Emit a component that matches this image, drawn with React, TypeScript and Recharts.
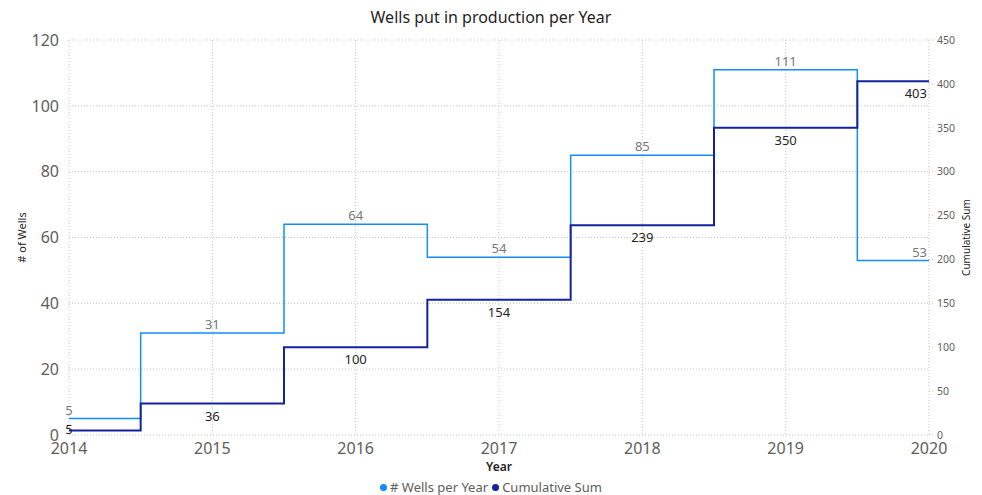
import React from 'react';
import { ComposedChart, Line, XAxis, YAxis, CartesianGrid, LabelList, Legend } from 'recharts';

const years = [2014, 2015, 2016, 2017, 2018, 2019, 2020];
const wellsPerYear = [5, 31, 64, 54, 85, 111, 53];
const cumulativeSum = [5, 36, 100, 154, 239, 350, 403];
const leftTicks = [0, 20, 40, 60, 80, 100, 120];
const rightTicks = [0, 50, 100, 150, 200, 250, 300, 350, 400, 450];

const data = years.map((y, i) => ({ year: y, wells: wellsPerYear[i], cum: cumulativeSum[i] }));

const FONT = '"Noto Sans", "Open Sans", sans-serif';
const WELLS_COLOR = '#118DFF';
const CUM_COLOR = '#12239E';
const PLOT_BOTTOM = 435;

const makeLabel = (fill: string, above: boolean) => (props: any) => {
  const { x, y, value, index } = props;
  const last = index === years.length - 1;
  const anchor = last ? 'end' : 'middle';
  const tx = last ? x - 2 : x;
  const ty = above ? y - 4 : Math.min(y + 6, PLOT_BOTTOM - 12);
  return (
    <text
      x={tx}
      y={ty}
      textAnchor={anchor}
      dominantBaseline={above ? 'auto' : 'hanging'}
      fill={fill}
      fontSize={13}
      fontFamily={FONT}
    >
      {value}
    </text>
  );
};

const renderLegend = () => (
  <div style={{ display: 'flex', justifyContent: 'center', fontFamily: FONT, fontSize: 13, color: '#605E5C' }}>
    <span style={{ display: 'flex', alignItems: 'center', marginRight: 4 }}>
      <span style={{ width: 7, height: 7, borderRadius: '50%', background: WELLS_COLOR, display: 'inline-block', marginRight: 3 }} />
      # Wells per Year
    </span>
    <span style={{ display: 'flex', alignItems: 'center' }}>
      <span style={{ width: 7, height: 7, borderRadius: '50%', background: CUM_COLOR, display: 'inline-block', marginRight: 3 }} />
      Cumulative Sum
    </span>
  </div>
);

export default function App() {
  return (
    <div style={{ position: 'absolute', left: 0, top: 0, width: 982, height: 495, background: '#fff' }}>
      <div
        style={{
          position: 'absolute',
          left: 0,
          top: 5,
          width: 982,
          textAlign: 'center',
          fontFamily: FONT,
          fontSize: 16,
          color: '#252423',
          lineHeight: '24px',
        }}
      >
        Wells put in production per Year
      </div>
      <ComposedChart
        width={982}
        height={495}
        data={data}
        margin={{ top: 40, right: 0, bottom: 20, left: 0 }}
      >
        <CartesianGrid yAxisId="left" stroke="#c8c8c8" strokeDasharray="1 2" />
        <XAxis
          dataKey="year"
          type="number"
          domain={[2014, 2020]}
          ticks={years}
          interval={0}
          height={40}
          axisLine={false}
          tickLine={false}
          tick={{ fontSize: 16, fill: '#605E5C', fontFamily: FONT }}
          label={{ value: 'Year', position: 'insideBottom', offset: 4, fontSize: 12, fontWeight: 600, fill: '#252423', fontFamily: FONT }}
        />
        <YAxis
          yAxisId="left"
          domain={[0, 120]}
          ticks={leftTicks}
          width={69}
          axisLine={false}
          tickLine={false}
          tickMargin={4}
          tick={{ fontSize: 16, fill: '#605E5C', fontFamily: FONT }}
          label={{ value: '# of Wells', angle: -90, position: 'insideLeft', offset: 22, style: { textAnchor: 'middle' }, fontSize: 11, fill: '#252423', fontFamily: FONT }}
        />
        <YAxis
          yAxisId="right"
          orientation="right"
          domain={[0, 450]}
          ticks={rightTicks}
          width={53}
          axisLine={false}
          tickLine={{ stroke: '#c8c8c8', strokeDasharray: '1 2' }}
          tickSize={4}
          tickMargin={4}
          tick={{ fontSize: 10.5, fill: '#605E5C', fontFamily: FONT }}
          label={{ value: 'Cumulative Sum', angle: -90, position: 'insideRight', offset: 16, style: { textAnchor: 'middle' }, fontSize: 10, fill: '#252423', fontFamily: FONT }}
        />
        <Legend
          verticalAlign="middle"
          align="center"
          layout="horizontal"
          content={renderLegend}
          wrapperStyle={{ top: 478, left: 0, width: 982 }}
        />
        <Line
          yAxisId="left"
          type="step"
          dataKey="wells"
          name="# Wells per Year"
          stroke={WELLS_COLOR}
          strokeWidth={1.5}
          dot={false}
          activeDot={false}
          isAnimationActive={false}
        >
          <LabelList dataKey="wells" content={makeLabel('#777777', true)} />
        </Line>
        <Line
          yAxisId="right"
          type="step"
          dataKey="cum"
          name="Cumulative Sum"
          stroke={CUM_COLOR}
          strokeWidth={2}
          dot={false}
          activeDot={false}
          isAnimationActive={false}
        >
          <LabelList dataKey="cum" content={makeLabel('#252423', false)} />
        </Line>
      </ComposedChart>
    </div>
  );
}
